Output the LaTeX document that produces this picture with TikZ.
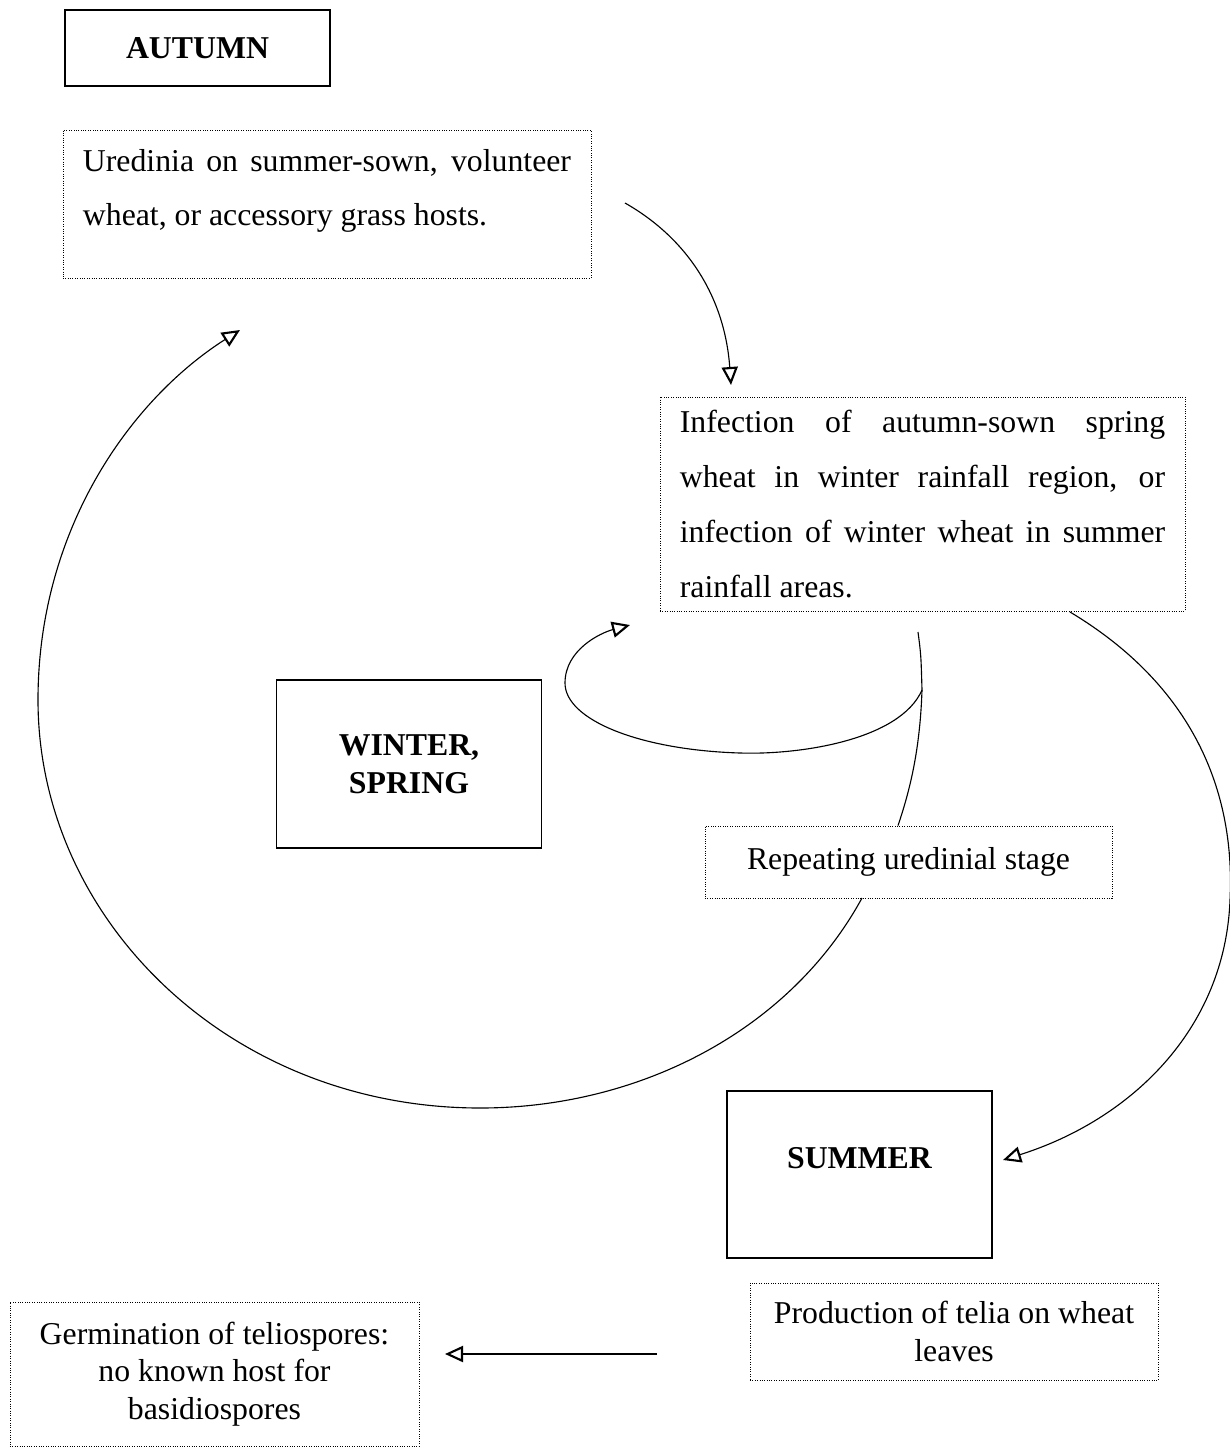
\documentclass[tikz,border=0pt]{standalone}
\usepackage{fontspec}
\setmainfont{Liberation Serif}
\usetikzlibrary{arrows.meta}

\begin{document}
\begin{tikzpicture}[
    x=0.025cm, y=-0.025cm,
    seasonbox/.style={
        draw,
        line width=0.9pt,
        align=center,
        font=\fontsize{22.6}{26.8}\selectfont\bfseries,
        minimum width=6.62cm
    },
    dotbox/.style={
        draw,
        line width=0.6pt,
        dash pattern=on 0.6pt off 1.1pt,
        align=center,
        font=\fontsize{22.6}{26.6}\selectfont
    },
    textbox/.style={
        dotbox,
        align=justify,
        font=\fontsize{22.6}{39}\selectfont
    },
    link/.style={line width=0.8pt},
    >={Triangle[open,length=0.45cm,width=0.4cm,line width=1.5pt]}
]
\useasboundingbox (0,0) rectangle (1230,1448);

% Seasons
\node[seasonbox, minimum height=1.9cm] (autumn) at (197.5,48)
{AUTUMN};

\node[seasonbox, minimum height=4.2cm] (winter) at (409,764)
{WINTER,\\SPRING};

\node[seasonbox, minimum height=4.175cm] (summer) at (859.5,1174.5)
{\raisebox{0.4cm}[\height][\depth]{SUMMER}};

% Stages
\node[textbox, text width=12.2cm, text depth=2.2cm, minimum width=13.2cm, minimum height=3.7cm] (uredinia) at (327,204)
{Uredinia on summer-sown, volunteer\linebreak wheat, or accessory grass hosts.};

\node[textbox, text width=12.13cm, minimum width=13.125cm, minimum height=5.35cm] (infection) at (922.5,504)
{Infection of autumn-sown spring\linebreak
wheat in winter rainfall region, or\linebreak
infection of winter wheat in summer\linebreak
rainfall areas.};

\node[dotbox, minimum width=10.175cm, minimum height=1.8cm] (repeat) at (908.5,862)
{Repeating uredinial stage};

\node[dotbox, minimum width=10.2cm, minimum height=2.425cm] (telia) at (954,1331.5)
{Production of telia on wheat\\leaves};

\node[dotbox, minimum width=10.225cm, minimum height=3.6cm] (germ) at (214.5,1374)
{Germination of teliospores:\\no known host for\\basidiospores};

% Free ends
\coordinate (ured_out) at (625,203);
\coordinate (inf_in) at (731,385);
\coordinate (inf_out) at (1070,612);
\coordinate (sum_in) at (1003,1160);
\coordinate (inf_low) at (918,632);
\coordinate (fork) at (922,690);
\coordinate (inf_back) at (630,625);
\coordinate (rep_out) at (862,898);
\coordinate (ured_in) at (240,330);
\coordinate (tel_out) at (657,1354);
\coordinate (germ_in) at (445,1354);

% Connections
\draw[->,link] (ured_out) .. controls (690,240) and (725,300) .. (inf_in);

\draw[->,link] (inf_out) .. controls (1200,690) and (1235,800) .. (1230,900)
    .. controls (1225,1030) and (1130,1120) .. (sum_in);

\draw[link] (inf_low) .. controls (921,655) .. (fork)
    .. controls (920,750) and (910,790) .. (repeat.north -| 898,0);

\draw[->,link] (fork) .. controls (900,740) and (800,755) .. (740,753)
    .. controls (640,750) and (565,720) .. (565,683)
    .. controls (565,650) and (600,633) .. (inf_back);

\draw[->,link] (rep_out) .. controls (790,1030) and (640,1108) .. (480,1108)
    .. controls (230,1108) and (38,920) .. (38,700)
    .. controls (38,530) and (130,400) .. (ured_in);

\draw[->,link] (tel_out) -- (germ_in);

\end{tikzpicture}
\end{document}
